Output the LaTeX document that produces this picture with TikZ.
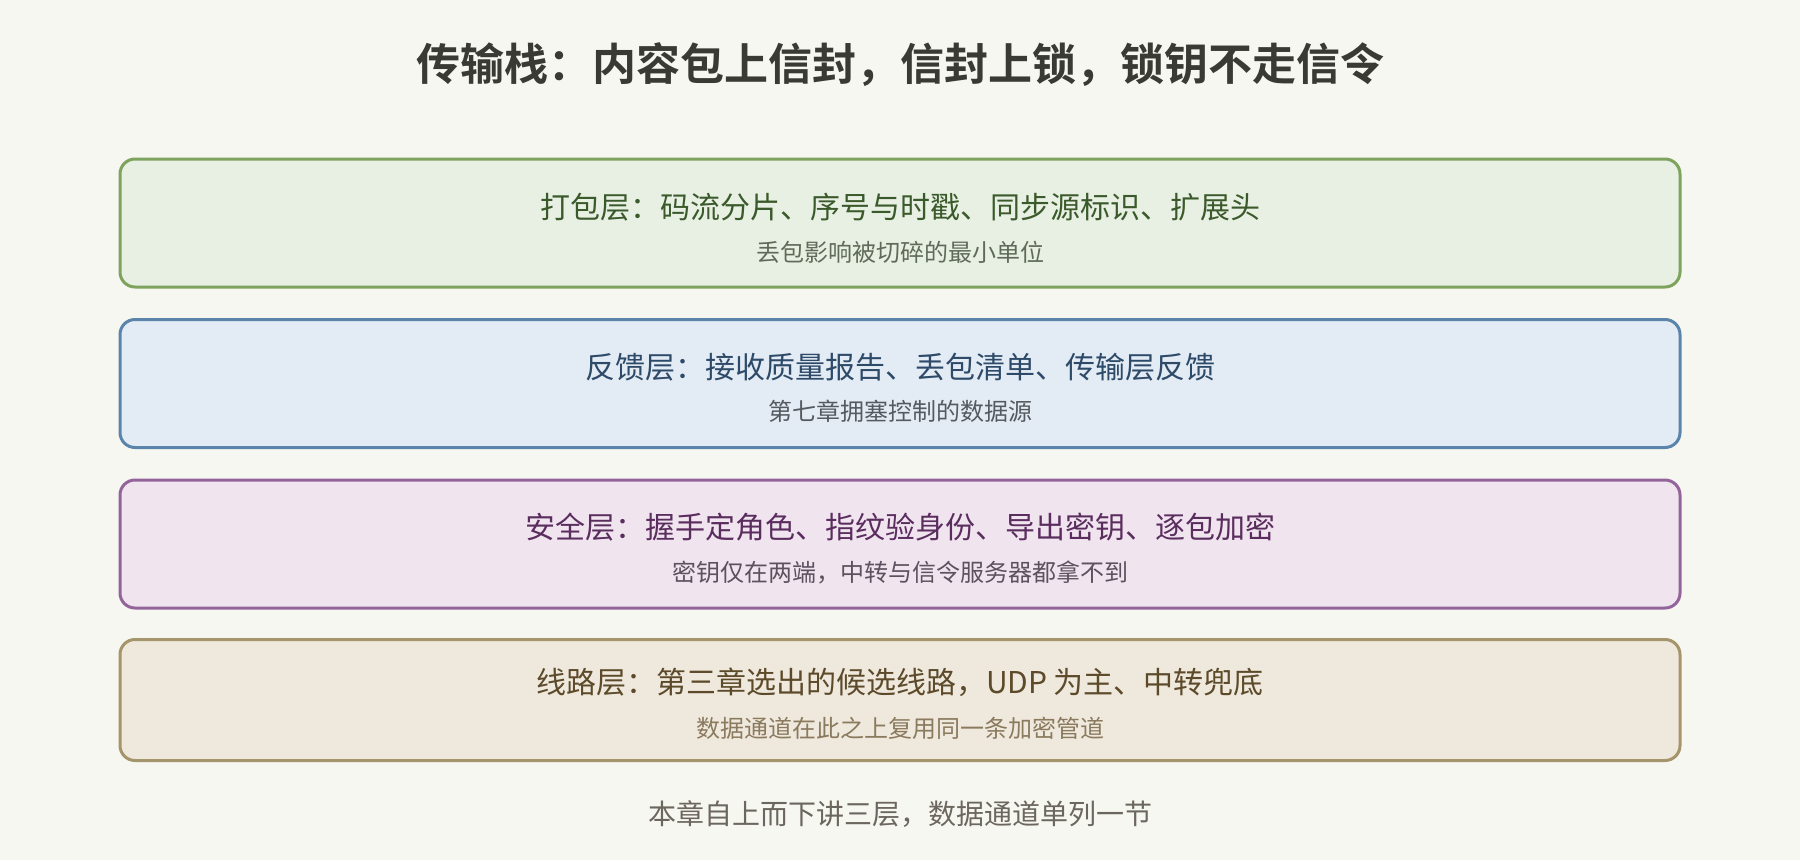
\documentclass[tikz,border=0pt]{standalone}
\usepackage{fontspec}
\setmainfont{Noto Sans CJK SC}[BoldFont={Noto Sans CJK SC Bold}]
\definecolor{bgc}{HTML}{F7F7F2}
\definecolor{titlec}{HTML}{3A3A35}
\definecolor{footc}{HTML}{6B665E}
\definecolor{gfill}{HTML}{E8EFE3}\definecolor{gdraw}{HTML}{7EA35D}\definecolor{gtext}{HTML}{3B5A2B}\definecolor{gsub}{HTML}{5F6B58}
\definecolor{bfill}{HTML}{E3EBF4}\definecolor{bdraw}{HTML}{5B84AA}\definecolor{btext}{HTML}{2D4A68}\definecolor{bsub}{HTML}{555A60}
\definecolor{pfill}{HTML}{F0E4EF}\definecolor{pdraw}{HTML}{93649A}\definecolor{ptext}{HTML}{5A2D5E}\definecolor{psub}{HTML}{5E505E}
\definecolor{yfill}{HTML}{EFE8DC}\definecolor{ydraw}{HTML}{A4956A}\definecolor{ytext}{HTML}{5C4A2A}\definecolor{ysub}{HTML}{8A7A5E}
\tikzset{
  layerbox/.style={draw, line width=3pt, rounded corners=15pt, minimum width=1560pt, inner sep=0pt},
  maintxt/.style={inner sep=0pt, font=\fontsize{30}{36}\selectfont},
  subtxt/.style={inner sep=0pt, font=\fontsize{24}{29}\selectfont},
}
\begin{document}
\begin{tikzpicture}[x=1pt,y=-1pt]
\fill[bgc] (0,0) rectangle (1800,860);
\useasboundingbox (0,0) rectangle (1800,860);
\node[inner sep=0pt, text=titlec, font=\fontsize{44}{52}\selectfont\bfseries] (title) at (900,65) {传输栈：内容包上信封，信封上锁，锁钥不走信令};

\node[layerbox, fill=gfill, draw=gdraw, minimum height=128pt] (b1) at (900,223) {};
\node[maintxt, text=gtext] (m1) at (900,207) {打包层：码流分片、序号与时戳、同步源标识、扩展头};
\node[subtxt, text=gsub] (s1) at (900,252) {丢包影响被切碎的最小单位};

\node[layerbox, fill=bfill, draw=bdraw, minimum height=128pt] (b2) at (900,383.5) {};
\node[maintxt, text=btext] (m2) at (900,367) {反馈层：接收质量报告、丢包清单、传输层反馈};
\node[subtxt, text=bsub] (s2) at (900,411) {第七章拥塞控制的数据源};

\node[layerbox, fill=pfill, draw=pdraw, minimum height=128pt] (b3) at (900,544) {};
\node[maintxt, text=ptext] (m3) at (900,527) {安全层：握手定角色、指纹验身份、导出密钥、逐包加密};
\node[subtxt, text=psub] (s3) at (900,572) {密钥仅在两端，中转与信令服务器都拿不到};

\node[layerbox, fill=yfill, draw=ydraw, minimum height=121pt] (b4) at (900,700) {};
\node[maintxt, text=ytext] (m4) at (900,682) {线路层：第三章选出的候选线路，UDP 为主、中转兜底};
\node[subtxt, text=ysub] (s4) at (900,728) {数据通道在此之上复用同一条加密管道};

\node[inner sep=0pt, text=footc, font=\fontsize{28}{34}\selectfont] (foot) at (900,814) {本章自上而下讲三层，数据通道单列一节};
\end{tikzpicture}
\end{document}
